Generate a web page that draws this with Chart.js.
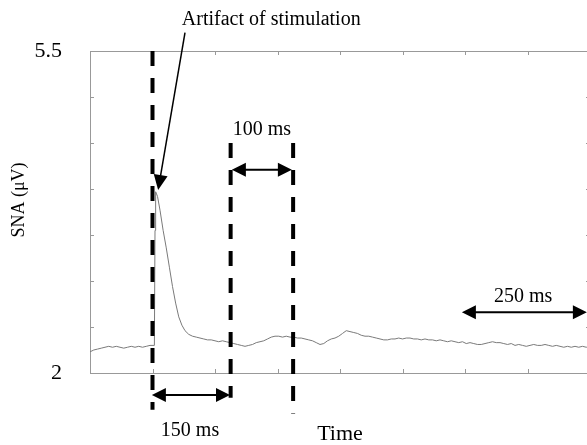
<!DOCTYPE html>
<html><head><meta charset="utf-8">
<script src="https://cdn.jsdelivr.net/npm/chart.js@4.4.1/dist/chart.umd.min.js"></script>
<style>
html,body{margin:0;padding:0;background:#fff;overflow:hidden;width:587px;height:445px}
#wrap{position:relative;width:592px;height:445px}
canvas{display:block}
</style></head>
<body><div id="wrap"><canvas id="c" width="592" height="445" style="width:592px;height:445px"></canvas></div>
<script>
// ---- data ----
const timeMs = [0,6,12,18,24,30,36,42,48,54,60,66,72,78,84,90,96,103,104,105,108,112,117,122,127,132,137,142,147,152,158,164,170,176,182,188,194,200,206,212,218,224,230,236,242,248,254,260,266,272,278,284,290,296,302,308,314,320,326,332,338,344,350,356,362,368,374,380,386,392,398,404,410,416,422,428,434,440,446,452,458,464,470,476,482,488,494,500,506,512,518,524,530,536,542,548,554,560,566,572,578,584,590,596,602,608,614,620,626,632,638,644,650,656,662,668,674,680,686,692,698,704,710,716,722,728,734,740,746,752,758,764,770,776,782,788,794,800];
const snaValues = [2.23,2.25,2.26,2.27,2.28,2.29,2.28,2.29,2.28,2.27,2.28,2.29,2.28,2.29,2.28,2.29,2.30,2.30,3.55,3.97,3.92,3.77,3.55,3.36,3.15,2.94,2.76,2.61,2.52,2.46,2.42,2.40,2.39,2.38,2.37,2.36,2.36,2.35,2.34,2.35,2.34,2.33,2.32,2.31,2.30,2.29,2.30,2.31,2.33,2.34,2.35,2.37,2.39,2.40,2.40,2.39,2.40,2.39,2.39,2.38,2.38,2.37,2.36,2.35,2.33,2.31,2.32,2.35,2.37,2.38,2.40,2.43,2.46,2.45,2.44,2.43,2.41,2.40,2.40,2.39,2.38,2.37,2.36,2.36,2.37,2.37,2.38,2.37,2.38,2.38,2.37,2.37,2.36,2.37,2.36,2.36,2.35,2.36,2.35,2.34,2.35,2.34,2.33,2.34,2.32,2.33,2.32,2.31,2.31,2.32,2.33,2.34,2.33,2.33,2.32,2.31,2.32,2.30,2.31,2.30,2.29,2.30,2.31,2.30,2.30,2.31,2.30,2.29,2.30,2.29,2.28,2.29,2.28,2.29,2.28,2.29,2.28,2.29];
const yTickLabels = ['2', '5.5'];
const xLimits = [0, 800];
const yLimits = [2, 5.5];

// annotation anchors in data units
const markerLines = [
  {x: 100, yTop: 5.5, yBottom: 1.60},
  {x: 225, yTop: 4.5, yBottom: 1.73},
  {x: 325, yTop: 4.5, yBottom: 1.56}
];
const spanArrows = [
  {label: '150 ms', x0: 99, x1: 224, y: 1.76, lx: 160, ly: 1.37},
  {label: '100 ms', x0: 227, x1: 323, y: 4.21, lx: 275, ly: 4.64},
  {label: '250 ms', x0: 595, x1: 795, y: 2.66, lx: 693, ly: 2.83}
];
const artifactNote = {label: 'Artifact of stimulation', lx: 290, ly: 5.84, fromX: 152, fromY: 5.70, toX: 109, toY: 3.99};

const SERIF = '"Liberation Serif","Times New Roman",serif';

function arrowHead(ctx, tx, ty, fx, fy, len, half) {
  const a = Math.atan2(ty - fy, tx - fx);
  ctx.beginPath();
  ctx.moveTo(tx, ty);
  ctx.lineTo(tx - len*Math.cos(a) + half*Math.sin(a), ty - len*Math.sin(a) - half*Math.cos(a));
  ctx.lineTo(tx - len*Math.cos(a) - half*Math.sin(a), ty - len*Math.sin(a) + half*Math.cos(a));
  ctx.closePath();
  ctx.fill();
}

const annot = {
  id: 'annot',
  afterDatasetsDraw(chart) {
    const ctx = chart.ctx, xs = chart.scales.x, ys = chart.scales.y;
    const ca = chart.chartArea;
    const X = v => xs.getPixelForValue(v), Y = v => ys.getPixelForValue(v);
    ctx.save();
    // top border
    ctx.strokeStyle = '#999'; ctx.lineWidth = 1;
    ctx.beginPath(); ctx.moveTo(ca.left, ca.top + 0.5); ctx.lineTo(ca.right, ca.top + 0.5); ctx.stroke();
    ctx.beginPath(); ctx.moveTo(ca.right - 0.5, ca.top); ctx.lineTo(ca.right - 0.5, ca.bottom); ctx.stroke();
    // inward ticks
    xs.ticks.forEach(t => {
      if (t.value <= xLimits[0] || t.value >= xLimits[1]) return;
      const px = Math.round(X(t.value)) + 0.5;
      ctx.beginPath(); ctx.moveTo(px, ca.bottom); ctx.lineTo(px, ca.bottom - 4); ctx.stroke();
      ctx.beginPath(); ctx.moveTo(px, ca.top); ctx.lineTo(px, ca.top + 4); ctx.stroke();
    });
    ys.ticks.forEach(t => {
      if (t.value <= yLimits[0] || t.value >= yLimits[1]) return;
      const py = Math.round(Y(t.value)) + 0.5;
      ctx.beginPath(); ctx.moveTo(ca.left, py); ctx.lineTo(ca.left + 4, py); ctx.stroke();
      ctx.beginPath(); ctx.moveTo(ca.right, py); ctx.lineTo(ca.right - 4, py); ctx.stroke();
    });
    // y title
    ctx.fillStyle = '#000';
    ctx.font = '18px ' + SERIF;
    ctx.textAlign = 'center'; ctx.textBaseline = 'middle';
    ctx.save(); ctx.translate(19, 200); ctx.rotate(-Math.PI/2); ctx.fillText('SNA (\u03BCV)', 0, 0); ctx.restore();
    // dashed marker lines
    ctx.strokeStyle = '#000'; ctx.lineWidth = 4; ctx.setLineDash([15, 12]);
    markerLines.forEach(m => {
      ctx.beginPath(); ctx.moveTo(X(m.x), Y(m.yTop)); ctx.lineTo(X(m.x), Y(m.yBottom)); ctx.stroke();
    });
    ctx.setLineDash([]);
    // span arrows
    ctx.lineWidth = 2; ctx.fillStyle = '#000';
    ctx.font = '20px ' + SERIF;
    spanArrows.forEach(s => {
      const x0 = X(s.x0), x1 = X(s.x1), y = Y(s.y);
      ctx.beginPath(); ctx.moveTo(x0 + 8, y); ctx.lineTo(x1 - 8, y); ctx.stroke();
      arrowHead(ctx, x0, y, x1, y, 14, 7);
      arrowHead(ctx, x1, y, x0, y, 14, 7);
      ctx.fillText(s.label, X(s.lx), Y(s.ly));
    });
    // artifact note
    const a = artifactNote;
    const fx = X(a.fromX), fy = Y(a.fromY), tx = X(a.toX), ty = Y(a.toY);
    ctx.lineWidth = 1.5;
    const ang = Math.atan2(ty - fy, tx - fx);
    ctx.beginPath(); ctx.moveTo(fx, fy); ctx.lineTo(tx - 10*Math.cos(ang), ty - 10*Math.sin(ang)); ctx.stroke();
    arrowHead(ctx, tx, ty, fx, fy, 15, 7);
    ctx.fillText(a.label, X(a.lx), Y(a.ly));
    ctx.restore();
  }
};

new Chart(document.getElementById('c').getContext('2d'), {
  type: 'scatter',
  data: {
    datasets: [{
      data: timeMs.map((t, i) => ({x: t, y: snaValues[i]})),
      showLine: true,
      borderColor: '#7a7a7a',
      borderWidth: 1,
      pointRadius: 0,
      tension: 0
    }]
  },
  options: {
    responsive: false,
    animation: false,
    devicePixelRatio: 1,
    layout: {padding: {top: 51, right: 2, left: 0, bottom: 0}},
    plugins: {legend: {display: false}, tooltip: {enabled: false}},
    scales: {
      x: {
        type: 'linear', min: xLimits[0], max: xLimits[1],
        ticks: {display: false, stepSize: 100},
        grid: {display: false},
        border: {display: true, color: '#999', width: 1},
        title: {display: true, text: 'Time', color: '#000',
                font: {family: SERIF, size: 22, lineHeight: 1}, padding: {top: 0, bottom: 0}},
        afterFit(s) { s.height = 72; }
      },
      y: {
        min: yLimits[0], max: yLimits[1],
        ticks: {stepSize: 0.5, padding: 28, autoSkip: false, color: '#000',
                font: {family: SERIF, size: 22},
                callback: v => yTickLabels.includes(String(v)) ? String(v) : ''},
        grid: {display: false, drawTicks: false},
        border: {display: true, color: '#999', width: 1},
        afterFit(s) { s.width = 90; }
      }
    }
  },
  plugins: [annot]
});
</script>
</body></html>
